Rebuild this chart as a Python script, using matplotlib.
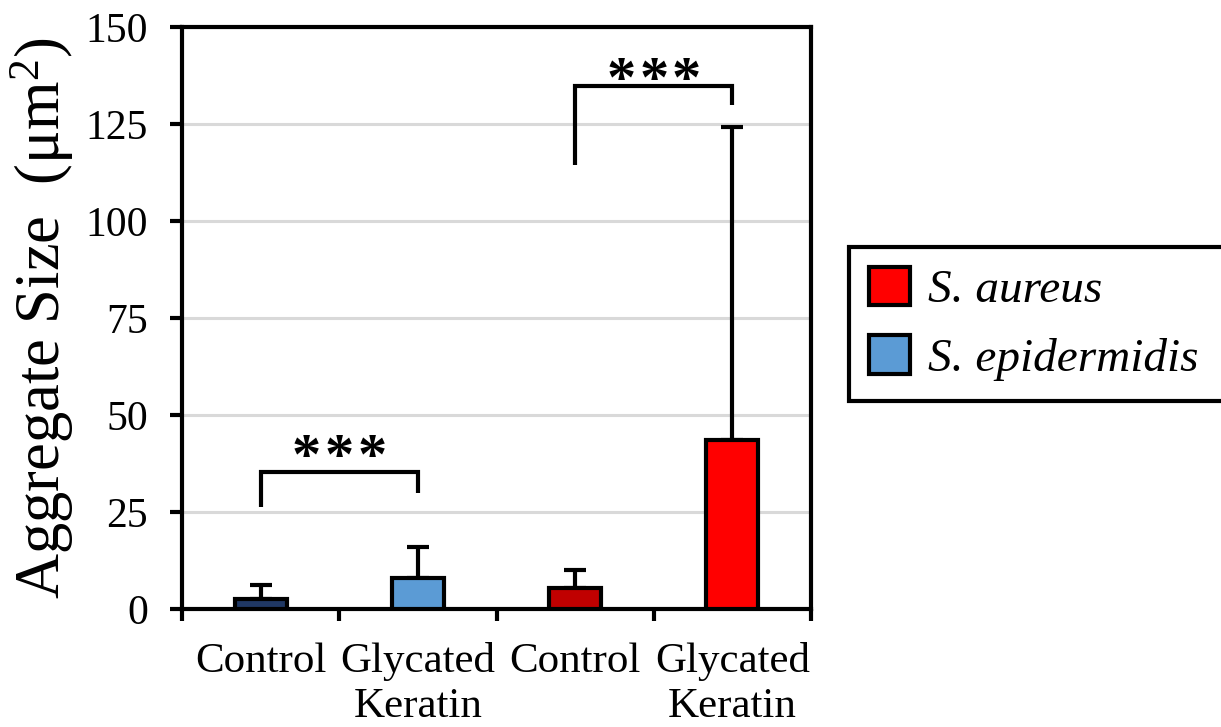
import matplotlib
matplotlib.use("Agg")
import matplotlib.pyplot as plt
from matplotlib.patches import Patch

# ---- data -------------------------------------------------------------
categories = ["Control", "Glycated\nKeratin", "Control", "Glycated\nKeratin"]
mean_size = [2.5, 8.0, 5.4, 43.5]          # aggregate size, um^2
upper_err = [3.7, 8.0, 4.7, 80.7]          # upper error (one-sided)
bar_colors = ["#203864", "#5B9BD5", "#C00000", "#FF0000"]

series_names = ["S. aureus", "S. epidermidis"]
series_colors = ["#FF0000", "#5B9BD5"]

y_ticks = [0, 25, 50, 75, 100, 125, 150]

# significance brackets:
# (left bar, right bar, left foot, top, right foot, star baseline, stars)
brackets = [
    (0, 1, 26.3, 35.4, 30.0, 35.0, 3),
    (2, 3, 114.4, 134.8, 129.9, 132.3, 3),
]

# ---- style ------------------------------------------------------------
plt.rcParams["font.family"] = ["Liberation Serif", "DejaVu Serif"]
plt.rcParams["mathtext.fontset"] = "custom"
plt.rcParams["mathtext.rm"] = "Liberation Serif"
plt.rcParams["mathtext.it"] = "Liberation Serif:italic"

LW = 3.0

fig = plt.figure(figsize=(12.21, 7.27), dpi=100)
ax = fig.add_axes([182 / 1221, 1 - 609 / 727, (811 - 182) / 1221, (609 - 27) / 727])

x = list(range(len(categories)))

ax.bar(x, mean_size, width=0.33, color=bar_colors, edgecolor="black",
       linewidth=LW, zorder=3)
ax.errorbar(x, mean_size, yerr=[[0] * len(x), upper_err], fmt="none",
            ecolor="black", elinewidth=LW, capsize=8, capthick=LW,
            zorder=2)

ax.set_xlim(-0.5, len(categories) - 0.5)
ax.set_ylim(0, 150)
ax.set_yticks(y_ticks)
ax.yaxis.grid(True, color="#D9D9D9", linewidth=2.2, zorder=0)
ax.set_axisbelow(True)

ax.set_xticks([i - 0.5 for i in range(len(categories) + 1)])
ax.set_xticklabels([])
ax.set_xticks(x, minor=True)
ax.set_xticklabels(categories, minor=True, fontsize=31, linespacing=1.22)
ax.tick_params(axis="x", which="minor", length=0, pad=24)
ax.tick_params(axis="x", which="major", length=8.5, width=LW, direction="out")
ax.tick_params(axis="y", length=8.5, width=LW, direction="out",
               labelsize=30, pad=16)

for sp in ax.spines.values():
    sp.set_linewidth(LW)
    sp.set_color("black")

ax.set_ylabel("Aggregate Size  (\u03bcm$^{2}$)", fontsize=45)
ax.yaxis.set_label_coords(-0.168, 0.5)

# significance brackets with individually spaced stars
star_step = 0.207
for left, right, foot_l, top, foot_r, star_y, n_stars in brackets:
    ax.plot([left, left, right, right], [foot_l, top, top, foot_r],
            color="black", linewidth=LW, solid_capstyle="butt",
            solid_joinstyle="miter", zorder=4, clip_on=False)
    mid = (left + right) / 2
    for k in range(n_stars):
        ax.text(mid + (k - (n_stars - 1) / 2) * star_step, star_y, "*",
                ha="center", va="baseline", fontsize=42, fontweight="bold",
                zorder=4)

# legend
handles = [Patch(facecolor=c, edgecolor="black", linewidth=LW)
           for c in series_colors]
leg = fig.legend(handles, series_names, loc="upper left",
                 bbox_to_anchor=(849 / 1221, 0.2, 430 / 1221, 1 - 247 / 727 - 0.2),
                 mode="expand", borderaxespad=0,
                 prop={"style": "italic", "size": 34},
                 handlelength=0.88, handleheight=0.88, handletextpad=0.38,
                 labelspacing=0.48, borderpad=0.42, fancybox=False,
                 frameon=True, framealpha=1)
leg.get_frame().set_edgecolor("black")
leg.get_frame().set_linewidth(LW)

fig.savefig("out.png", dpi=100)
